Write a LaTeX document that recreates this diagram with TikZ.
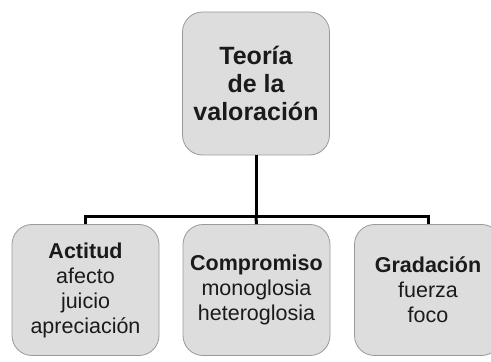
\documentclass[tikz,border=0pt]{standalone}
\usepackage{fontspec}
\setmainfont{Liberation Sans}
\usepackage{tikz}
\definecolor{cajagris}{HTML}{DDDDDD}
\definecolor{bordegris}{HTML}{9A9A9A}
\definecolor{tinta}{HTML}{1A1A1A}
\tikzset{
  caja/.style={shape=rectangle, rounded corners=20pt, draw=bordegris, line width=0.8pt,
    fill=cajagris, text=tinta, align=center, minimum width=147pt, inner sep=0pt},
  raiz/.style={caja, minimum height=143pt, font=\fontsize{25}{28}\selectfont\bfseries},
  rama/.style={caja, minimum height=131pt, font=\fontsize{21.5}{25}\selectfont},
  enlace/.style={draw=black, line width=3pt}
}
\begin{document}
\begin{tikzpicture}[x=1pt, y=1pt]
    \clip (0,0) rectangle (491,362);
    \fill[white] (0,0) rectangle (491,362);
    \node[raiz] at (256,278.5) (T) {Teoría\\de la\\valoración};
    \node[rama] at (85.5,72) (A) {\textbf{Actitud}\\afecto\\juicio\\apreciación};
    \node[rama] at (256.5,72) (C) {\textbf{Compromiso}\\monoglosia\\heteroglosia};
    \node[rama] at (428,72) (G) {\textbf{Gradación}\\fuerza\\foco};
    \coordinate (J) at (256,145);
    \path [enlace] (T.south) -- (J);
    \path [enlace] (A.north) |- (J);
    \path [enlace] (G.north) |- (J);
    \path [enlace] (C.north) -- (J);
\end{tikzpicture}
\end{document}
